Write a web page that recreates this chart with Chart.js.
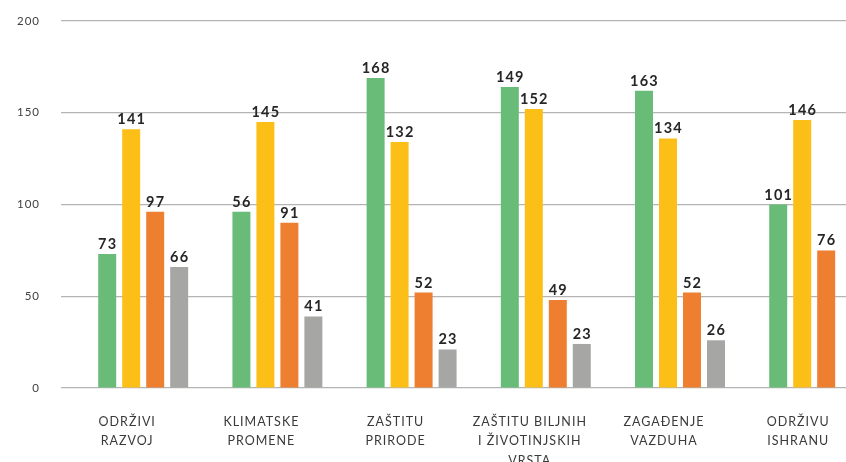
<!DOCTYPE html>
<html lang="sr">
<head>
<meta charset="utf-8">
<title>Teme</title>
<script src="https://cdn.jsdelivr.net/npm/chart.js@4.4.1/dist/chart.umd.min.js"></script>
<style>
  html, body { margin:0; padding:0; background:#fff; overflow:hidden; }
  .chart-wrap { position:relative; width:846px; height:462px; }
</style>
</head>
<body>
<div class="chart-wrap"><canvas id="teme"></canvas></div>
<script>
'use strict';
/* =============================================
   TEME – GRUPISANI STUBIČASTI GRAFIKON
   ============================================= */

// ── Podaci ──
const kategorije = [
  ['ODRŽIVI', 'RAZVOJ'],
  ['KLIMATSKE', 'PROMENE'],
  ['ZAŠTITU', 'PRIRODE'],
  ['ZAŠTITU BILJNIH', 'I ŽIVOTINJSKIH', 'VRSTA'],
  ['ZAGAĐENJE', 'VAZDUHA'],
  ['ODRŽIVU', 'ISHRANU'],
];

// visine stubova (kako su nacrtani)
const zelena      = [73, 96, 169, 164, 162, 100];
const zuta        = [141, 145, 134, 152, 136, 146];
const narandzasta = [96, 90, 52, 48, 52, 75];
const siva        = [66, 39, 21, 24, 26, null];

// natpisi iznad stubova (kako su ispisani)
const zelenaTxt      = [73, 56, 168, 149, 163, 101];
const zutaTxt        = [141, 145, 132, 152, 134, 146];
const narandzastaTxt = [97, 91, 52, 49, 52, 76];
const sivaTxt        = [66, 41, 23, 23, 26, null];

const yTicks = [0, 50, 100, 150, 200];

const $ = id => document.getElementById(id);

const toPoints = arr => arr.map((v, i) => ({ x: i, y: v }));

function serija(data, natpisi, boja) {
  return {
    data: toPoints(data),
    natpisi,
    backgroundColor: boja,
    borderWidth: 0,
    categoryPercentage: 0.715,
    barPercentage: 0.75,
  };
}

// ── Natpisi iznad stubova ──
const natpisiPlugin = {
  id: 'natpisi',
  beforeDraw(chart) {
    chart.ctx.letterSpacing = '1px';
  },
  afterDatasetsDraw(chart) {
    const ctx = chart.ctx;
    ctx.save();
    ctx.font = 'bold 14.5px Lato';
    ctx.letterSpacing = '1.2px';
    ctx.fillStyle = '#262626';
    ctx.textAlign = 'center';
    ctx.textBaseline = 'alphabetic';
    chart.data.datasets.forEach((ds, di) => {
      const meta = chart.getDatasetMeta(di);
      meta.data.forEach((el, i) => {
        const t = ds.natpisi[i];
        if (t == null) return;
        ctx.fillText(String(t), el.x + 0.5, el.y - 5);
      });
    });
    ctx.restore();
  },
};

new Chart($('teme'), {
  type: 'bar',
  data: {
    datasets: [
      serija(zelena, zelenaTxt, '#69bb78'),
      serija(zuta, zutaTxt, '#fbbf17'),
      serija(narandzasta, narandzastaTxt, '#ee7f30'),
      serija(siva, sivaTxt, '#a6a6a4'),
    ],
  },
  options: {
    responsive: true,
    maintainAspectRatio: false,
    animation: false,
    layout: { padding: { top: 21, right: 0, bottom: 0, left: 0 } },
    plugins: {
      legend: { display: false },
      tooltip: { enabled: false },
    },
    scales: {
      x: {
        type: 'linear',
        offset: false,
        min: -0.6125,
        max: 5.237,
        grid: { display: false },
        border: { display: false },
        afterBuildTicks: scale => { scale.ticks = kategorije.map((_, i) => ({ value: i })); },
        afterFit: scale => {
          scale.height = 74;
          scale.paddingLeft = 0;
          scale.paddingRight = 0;
        },
        ticks: {
          autoSkip: false,
          maxRotation: 0,
          padding: 16,
          labelOffset: -16,
          color: '#3a3a3a',
          font: { family: 'Lato', size: 12.5, lineHeight: 1.56 },
          callback: v => kategorije[v],
        },
      },
      y: {
        min: 0,
        max: 200,
        afterBuildTicks: scale => { scale.ticks = yTicks.map(v => ({ value: v })); },
        afterFit: scale => {
          scale.width = 61;
          scale.paddingTop = 0;
          scale.paddingBottom = 0;
        },
        grid: { color: '#b4b4b4', lineWidth: 1.2, drawTicks: false },
        border: { display: false },
        ticks: {
          padding: 21,
          color: '#404040',
          font: { family: 'Lato', size: 11.5 },
        },
      },
    },
  },
  plugins: [natpisiPlugin],
});
</script>
</body>
</html>
